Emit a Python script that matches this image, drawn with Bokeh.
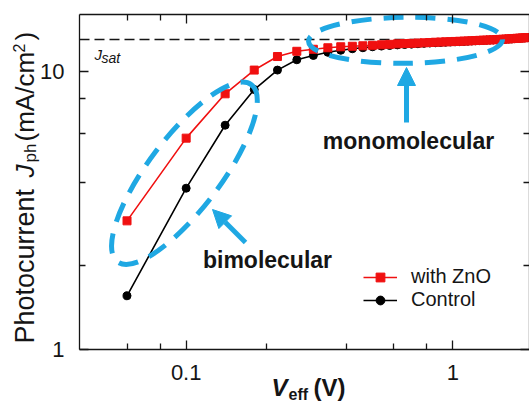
import math
from bokeh.plotting import figure
from bokeh.models import (FixedTicker, LogAxis, Label, Arrow, NormalHead,
                          Legend, LegendItem, CustomJSTickFormatter, Range1d)
from bokeh.embed import file_html
from bokeh.resources import INLINE

# ---------------- data ----------------
V_EFF = [0.06, 0.10, 0.14, 0.18, 0.22, 0.26, 0.30, 0.34, 0.38, 0.42, 0.46, 0.50,
         0.54, 0.58, 0.62, 0.66, 0.70, 0.74, 0.78, 0.82, 0.86, 0.90, 0.94, 0.98,
         1.02, 1.06, 1.10, 1.14, 1.18, 1.22, 1.26, 1.30, 1.34, 1.38, 1.42, 1.46,
         1.50, 1.54, 1.58, 1.62, 1.66, 1.70, 1.74, 1.78, 1.82, 1.86, 1.90]
J_ZNO = [2.9, 5.75, 8.3, 10.1, 11.3, 11.8, 12.0, 12.15, 12.25, 12.3, 12.35, 12.4,
         12.45, 12.5, 12.55, 12.58, 12.6, 12.63, 12.66, 12.69, 12.72, 12.74, 12.76, 12.78,
         12.8, 12.82, 12.84, 12.86, 12.88, 12.9, 12.92, 12.94, 12.95, 12.97, 12.98, 13.0,
         13.02, 13.04, 13.06, 13.08, 13.1, 13.12, 13.14, 13.16, 13.18, 13.2, 13.22]
J_CTRL = [1.56, 3.8, 6.4, 8.6, 10.1, 11.0, 11.4, 11.7, 11.9, 12.05, 12.15, 12.25,
          12.32, 12.38, 12.44, 12.48, 12.52, 12.56, 12.6, 12.63, 12.66, 12.69, 12.72, 12.74,
          12.76, 12.78, 12.8, 12.83, 12.85, 12.87, 12.89, 12.91, 12.93, 12.95, 12.96, 12.98,
          13.0, 13.02, 13.04, 13.06, 13.08, 13.1, 13.12, 13.14, 13.16, 13.18, 13.2]
SERIES_ZNO = "with ZnO"
SERIES_CTRL = "Control"
J_SAT = 13.0
X_BOX = (0.0398, 1.94)   # visible V_eff range of the axes box
Y_BOX = (1.0, 16.0)      # visible J_ph range of the axes box
X_MAJOR = [0.1, 1]
X_MINOR = [0.06, 0.08, 0.2, 0.4, 0.6, 0.8]
Y_MAJOR = [1, 10]
Y_MINOR = [2, 4, 6, 8]

# ---------------- layout / style ----------------
W, H = 529, 403
BOX_L, BOX_R, BOX_T, BOX_B = 79, 529, 14, 349   # axes box in canvas pixels
FONT = "Liberation Sans"
RED = "#f01010"
BLUE = "#1fa8e3"
INK = "#151515"

lx0, lx1 = math.log10(X_BOX[0]), math.log10(X_BOX[1])
ly0, ly1 = math.log10(Y_BOX[0]), math.log10(Y_BOX[1])
ppd_x = (BOX_R - BOX_L) / (lx1 - lx0)
ppd_y = (BOX_B - BOX_T) / (ly1 - ly0)
x_range = Range1d(10 ** (lx0 - BOX_L / ppd_x), 10 ** (lx1 + (W - BOX_R) / ppd_x))
y_range = Range1d(10 ** (ly0 - (H - BOX_B) / ppd_y), 10 ** (ly1 + BOX_T / ppd_y))

p = figure(width=W, height=H, x_axis_type="log", y_axis_type="log",
           x_range=x_range, y_range=y_range,
           output_backend="svg", toolbar_location=None,
           min_border_left=0, min_border_right=0, min_border_top=0, min_border_bottom=0)
p.title.visible = False
p.xgrid.visible = False
p.ygrid.visible = False
p.outline_line_color = None
p.background_fill_color = "white"
p.border_fill_color = "white"

p.add_layout(LogAxis(), "above")
p.add_layout(LogAxis(), "right")


def style(ax, major, minor, bounds, loc, show, standoff):
    ax.ticker = FixedTicker(ticks=major, minor_ticks=minor)
    ax.formatter = CustomJSTickFormatter(code="return String(tick);")
    ax.bounds = bounds
    ax.fixed_location = loc
    ax.axis_label = None
    ax.axis_line_color = INK
    ax.axis_line_width = 1.3
    ax.major_tick_line_color = INK
    ax.major_tick_line_width = 1.3
    ax.minor_tick_line_color = INK
    ax.minor_tick_line_width = 1.3
    ax.major_tick_in = 9
    ax.major_tick_out = 0
    ax.minor_tick_in = 6
    ax.minor_tick_out = 0
    ax.major_label_text_font = FONT
    ax.major_label_text_color = INK
    if show:
        ax.major_label_text_font_size = "22px"
        ax.major_label_standoff = standoff
    else:
        ax.major_label_text_font_size = "0px"
        ax.major_label_text_alpha = 0
        ax.major_label_standoff = 0


style(p.below[0], X_MAJOR, X_MINOR, X_BOX, Y_BOX[0], True, 15)
style(p.above[0], X_MAJOR, X_MINOR, X_BOX, Y_BOX[1], False, 0)
style(p.left[0], Y_MAJOR, Y_MINOR, Y_BOX, X_BOX[0], True, 15)
style(p.right[0], Y_MAJOR, Y_MINOR, Y_BOX, X_BOX[1], False, 0)

# saturation current line across the axes box
p.segment(x0=[X_BOX[0]], y0=[J_SAT], x1=[X_BOX[1]], y1=[J_SAT],
          line_color=INK, line_width=1.5, line_dash="10 5")

# data
r_cl = p.line(V_EFF, J_CTRL, line_color="black", line_width=1.6)
r_cp = p.scatter(V_EFF, J_CTRL, marker="circle", size=8, fill_color="black", line_color="black")
r_zl = p.line(V_EFF, J_ZNO, line_color=RED, line_width=1.6)
r_zp = p.scatter(V_EFF, J_ZNO, marker="square", size=8, fill_color=RED, line_color=RED)

# highlight ellipses (centre in data coords, size in pixels)
p.ellipse(x=[0.0985], y=[4.30], width=[222], height=[72], angle=[0.923],
          width_units="screen", height_units="screen",
          fill_color=None, line_color=BLUE, line_width=5, line_dash="20 12")
p.ellipse(x=[0.665], y=[12.92], width=[194], height=[46], angle=[0.01],
          width_units="screen", height_units="screen",
          fill_color=None, line_color=BLUE, line_width=5, line_dash="20 12")

# arrows (canvas pixels, y up)
p.add_layout(Arrow(end=NormalHead(size=18, fill_color=BLUE, line_color=BLUE),
                   x_start=406, y_start=281, x_end=406, y_end=336,
                   start_units="screen", end_units="screen",
                   line_color=BLUE, line_width=5))
p.add_layout(Arrow(end=NormalHead(size=18, fill_color=BLUE, line_color=BLUE),
                   x_start=245, y_start=161, x_end=212, y_end=194,
                   start_units="screen", end_units="screen",
                   line_color=BLUE, line_width=5))


def lab(text, x, y, size, style="normal", align="left", angle=0.0):
    p.add_layout(Label(x=x, y=y, x_units="screen", y_units="screen", text=text,
                       text_font=FONT, text_font_size=f"{size}px",
                       text_font_style=style, text_color=INK,
                       text_align=align, text_baseline="alphabetic",
                       angle=angle, angle_units="rad"))


lab("monomolecular", 408, 263, 23, "bold", "center")
lab("bimolecular", 267, 144, 23, "bold", "center")
lab("J", 94, 349, 15, "italic")
lab("sat", 101, 345.5, 14, "italic")

# x-axis title
lab("V", 271, 16, 24, "bold italic")
lab("eff", 288, 9, 16, "bold")
lab("(V)", 313, 16, 24, "bold")

# y-axis title (rotated)
R = math.pi / 2
lab("Photocurrent", 24, 60, 27, angle=R)
lab("J", 24, 226, 26, "italic", angle=R)
lab("ph", 30, 241, 17, angle=R)
lab("(mA/cm", 24, 262, 26, angle=R)
lab("2", 18, 351, 16, angle=R)
lab(")", 24, 363, 26, angle=R)

legend = Legend(items=[LegendItem(label=SERIES_ZNO, renderers=[r_zl, r_zp]),
                       LegendItem(label=SERIES_CTRL, renderers=[r_cl, r_cp])],
                location=(363, 92), orientation="vertical",
                glyph_width=34, glyph_height=22, label_height=22,
                label_standoff=14, spacing=0, padding=0, margin=0,
                border_line_alpha=0, background_fill_alpha=0,
                label_text_font=FONT, label_text_font_size="20px",
                label_text_color=INK)
p.add_layout(legend)

open("out.html", "w").write(file_html(p, INLINE))
